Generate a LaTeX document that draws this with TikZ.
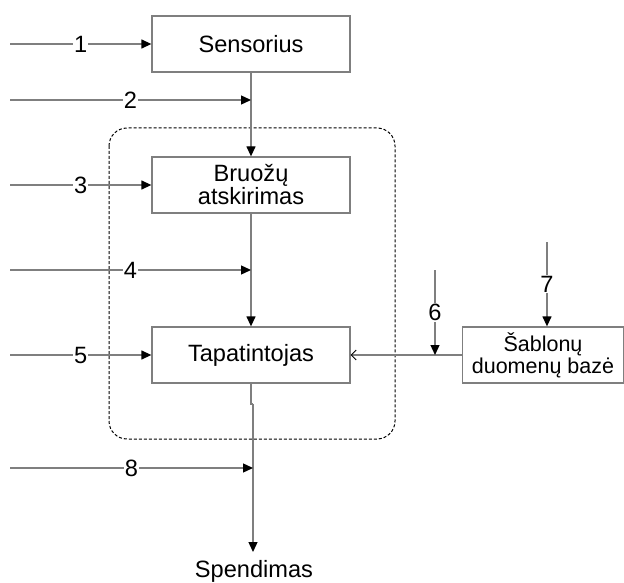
\documentclass[tikz,border=0pt]{standalone}
\usepackage{fontspec}
\setmainfont{Liberation Sans}
\usetikzlibrary{arrows.meta,positioning,calc}
\definecolor{wire}{HTML}{7F7F7F}
\definecolor{ink}{HTML}{000000}
\tikzset{
  >={Triangle[length=10pt,width=9pt,color=ink]},
  flow/.style={->, draw=wire, line width=1.3pt},
  block/.style={draw=wire, fill=white, line width=1.3pt, minimum width=198pt, minimum height=56pt,
    inner sep=0pt, align=center, font=\fontsize{23.6}{23}\selectfont, text=ink},
  dbblock/.style={block, minimum width=161pt, font=\fontsize{21.5}{22}\selectfont},
  num/.style={fill=white, inner sep=1pt, font=\fontsize{23.6}{23}\selectfont, text=ink},
  groupbox/.style={draw=ink, dashed, dash pattern=on 3pt off 2pt, line width=1pt, rounded corners=18pt},
}

\begin{document}
\begin{tikzpicture}[x=1pt,y=-1pt]
\useasboundingbox (0,0) rectangle (624,583);

% -----------------------------------------------------------------------------
% dashed group round the two inner stages
% -----------------------------------------------------------------------------
\draw[groupbox] (109,128) rectangle (395,439);

% -----------------------------------------------------------------------------
% main chain
% -----------------------------------------------------------------------------
\node[block] (sensor) at (251,44) {Sensorius};
\node[block] (features) at (251,185) {Bruožų\\atskirimas};
\node[block] (matcher) at (251,355) {Tapatintojas};
\node[dbblock] (templates) at (543,355) {Šablonų\\duomenų bazė};
\node[font=\fontsize{23.6}{23}\selectfont, text=ink] (decision) at (254,571) {Spendimas};

\coordinate (bend1) at (251,404);
\coordinate (bend2) at (253,404);
\coordinate (outend) at (253,552);

\draw[flow] (sensor) -- (features);
\draw[flow] (features) -- (matcher);
\draw[draw=wire, line width=1.3pt] (matcher.south) -- (bend1) -- (bend2);
\draw[flow] (bend2) -- (outend);
\draw[draw=wire, line width=1.3pt, -{Straight Barb[length=5pt,width=10pt,color=ink,line width=0.8pt]}]
  (templates.west) -- (matcher.east);

% -----------------------------------------------------------------------------
% numbered inputs
% -----------------------------------------------------------------------------
\coordinate (in1) at (10,44);
\coordinate (in2) at (10,100);
\coordinate (in3) at (10,185);
\coordinate (in4) at (10,270);
\coordinate (in5) at (10,355);
\coordinate (in8) at (10,468);
\coordinate (tap2) at (251,100);
\coordinate (tap4) at (251,270);
\coordinate (tap8) at (253,468);
\coordinate (in6) at (435,270);
\coordinate (tap6) at (435,355);
\coordinate (in7) at (547,242);

\draw[flow] (in1) -- node[num] {1} (sensor.west);
\draw[flow] (in2) -- node[num] {2} (tap2);
\draw[flow] (in3) -- node[num] {3} (features.west);
\draw[flow] (in4) -- node[num] {4} (tap4);
\draw[flow] (in5) -- node[num] {5} (matcher.west);
\draw[flow] (in8) -- node[num] {8} (tap8);
\draw[flow] (in6) -- node[num] {6} (tap6);
\draw[flow] (in7) -- node[num] {7} (in7 |- templates.north);

\end{tikzpicture}
\end{document}
